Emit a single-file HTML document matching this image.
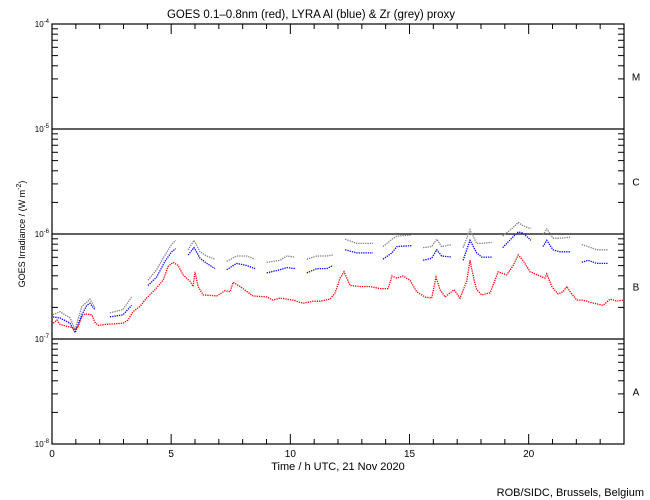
<!DOCTYPE html>
<html><head><meta charset="utf-8"><style>
body{margin:0;background:#fff}
svg{display:block;font-family:"Liberation Sans",sans-serif}
</style></head><body>
<svg id="chart" width="650" height="500" viewBox="0 0 650 500" xmlns="http://www.w3.org/2000/svg">
<rect width="650" height="500" fill="#fff"/>
<text x="311" y="18" font-size="11.5" text-anchor="middle">GOES 0.1–0.8nm (red), LYRA Al (blue) &amp; Zr (grey) proxy</text>
<g id="axes"></g>
<g id="series"></g>
<text x="338" y="470" font-size="11" text-anchor="middle">Time / h UTC, 21 Nov 2020</text>
<text transform="translate(25,234) rotate(-90)" font-size="9" text-anchor="middle">GOES Irradiance / (W m<tspan dy="-4" font-size="7">-2</tspan><tspan dy="4">)</tspan></text>
<text x="644" y="496" font-size="11" text-anchor="end">ROB/SIDC, Brussels, Belgium</text>
</svg>
<script>
const redTimes=[0.05,0.2,0.34,0.62,0.83,0.97,1.10,1.25,1.38,1.67,1.80,1.94,2.30,2.98,3.19,3.40,3.69,3.97,4.32,4.66,4.87,5.08,5.29,5.50,5.79,5.92,6.00,6.13,6.34,6.92,7.26,7.47,7.60,7.89,8.43,9.02,9.27,9.57,10.11,10.53,10.95,11.25,11.67,11.88,12.09,12.25,12.51,12.92,13.34,13.76,14.10,14.26,14.47,14.73,15.02,15.30,15.65,15.93,16.11,16.28,16.49,16.87,17.12,17.40,17.54,17.71,17.82,18.03,18.38,18.72,19.08,19.35,19.56,19.76,20.06,20.48,20.69,20.76,20.97,21.23,21.44,21.60,21.74,22.02,22.28,22.58,23.12,23.42,23.70,23.96];
const redLogFlux=[-6.85,-6.82,-6.86,-6.88,-6.89,-6.91,-6.88,-6.79,-6.76,-6.77,-6.84,-6.87,-6.86,-6.85,-6.82,-6.74,-6.69,-6.61,-6.53,-6.44,-6.31,-6.27,-6.30,-6.39,-6.45,-6.50,-6.36,-6.50,-6.58,-6.59,-6.54,-6.55,-6.46,-6.50,-6.59,-6.60,-6.63,-6.61,-6.63,-6.66,-6.64,-6.64,-6.62,-6.56,-6.42,-6.36,-6.49,-6.50,-6.50,-6.52,-6.52,-6.40,-6.42,-6.40,-6.44,-6.55,-6.60,-6.61,-6.41,-6.53,-6.60,-6.53,-6.61,-6.45,-6.25,-6.44,-6.53,-6.58,-6.56,-6.36,-6.39,-6.30,-6.20,-6.25,-6.36,-6.40,-6.42,-6.38,-6.50,-6.57,-6.55,-6.50,-6.55,-6.63,-6.63,-6.65,-6.68,-6.62,-6.64,-6.63];
const lyraTimes=[0.04,0.34,0.76,0.97,1.25,1.46,1.59,1.80,null,2.43,2.98,3.34,null,4.03,4.39,4.74,5.02,5.19,null,5.71,5.96,6.21,6.49,6.84,null,7.33,7.75,8.17,8.52,null,9.01,9.57,9.85,10.20,null,10.69,11.11,11.53,11.79,null,12.30,12.79,13.47,null,13.89,14.26,14.47,15.09,null,15.57,15.93,16.14,16.35,16.77,null,17.25,17.54,17.82,18.03,18.45,null,18.91,19.29,19.56,19.76,20.10,null,20.60,20.76,21.02,21.32,21.74,null,22.23,22.49,22.86,23.33,null,23.91];
const blueLogFlux=[-6.79,-6.80,-6.85,-6.94,-6.77,-6.68,-6.66,-6.72,null,-6.79,-6.77,-6.68,null,-6.49,-6.41,-6.26,-6.17,-6.14,null,-6.20,-6.13,-6.23,-6.28,-6.33,null,-6.34,-6.28,-6.30,-6.33,null,-6.37,-6.34,-6.32,-6.33,null,-6.37,-6.33,-6.33,-6.30,null,-6.15,-6.18,-6.18,null,-6.24,-6.18,-6.12,-6.11,null,-6.25,-6.23,-6.15,-6.21,-6.22,null,-6.25,-6.06,-6.18,-6.22,-6.22,null,-6.13,-6.04,-5.98,-5.99,-6.06,null,-6.12,-6.06,-6.15,-6.17,-6.17,null,-6.27,-6.25,-6.28,-6.28,null,-6.28];
const greyLogFlux=[-6.77,-6.74,-6.80,-6.91,-6.69,-6.65,-6.62,-6.70,null,-6.75,-6.72,-6.60,null,-6.44,-6.34,-6.20,-6.10,-6.06,null,-6.15,-6.06,-6.17,-6.21,-6.24,null,-6.26,-6.21,-6.21,-6.24,null,-6.27,-6.25,-6.21,-6.22,null,-6.24,-6.21,-6.21,-6.20,null,-6.05,-6.09,-6.09,null,-6.12,-6.05,-6.02,-6.01,null,-6.13,-6.12,-6.05,-6.12,-6.10,null,-6.13,-5.96,-6.09,-6.09,-6.08,null,-6.02,-5.95,-5.89,-5.92,-5.95,null,-6.01,-5.95,-6.04,-6.04,-6.03,null,-6.10,-6.12,-6.15,-6.15,null,-6.15];
const xTickLabels=["0","5","10","15","20"];
const xTickHours=[0,5,10,15,20];
const yDecades=[-4,-5,-6,-7,-8];
const classLabels=["M","C","B","A"];

const NS="http://www.w3.org/2000/svg";
const X0=52,X1=624,Y0=24,Y1=444;
const xs=h=>X0+h*(X1-X0)/24;
const ys=l=>Y0+(-4-l)*(Y1-Y0)/4;
function mk(tag,attrs,parent){const e=document.createElementNS(NS,tag);for(const k in attrs)e.setAttribute(k,attrs[k]);parent.appendChild(e);return e;}
const axes=document.getElementById('axes');
let e=mk('rect',{x:X0,y:Y0,width:X1-X0,height:Y1-Y0,fill:'none',stroke:'#000','stroke-width':1.2},axes);


yDecades.forEach(d=>{
  const y=ys(d);
  if(d!==-4&&d!==-8){const l=mk('line',{x1:X0,x2:X1,y1:y,y2:y,stroke:'#000','stroke-width':1.2},axes);
  
  }
  const t=mk('text',{x:X0-3,y:y+3,'font-size':8,'text-anchor':'end'},axes);
  
  
  t.innerHTML='10<tspan dy="-4" font-size="6">'+d+'</tspan>';
  if(d>-8){for(let m=2;m<=9;m++){const yy=ys(d-1+Math.log10(m));
    const a=mk('line',{x1:X0,x2:X0+6,y1:yy,y2:yy,stroke:'#000'},axes);
    
    
    const b=mk('line',{x1:X1,x2:X1-6,y1:yy,y2:yy,stroke:'#000'},axes);
    
    }}
});
classLabels.forEach((c,i)=>{
  const t=mk('text',{x:636,y:ys(-4.5-i)+4,'font-size':10,'text-anchor':'middle'},axes);
  
  
  t.textContent=c;
});
for(let h=1;h<24;h++){
  const len=(h%5===0)?10:5,x=xs(h);
  const a=mk('line',{x1:x,x2:x,y1:Y1,y2:Y1-len,stroke:'#000'},axes);
  
  
  const b=mk('line',{x1:x,x2:x,y1:Y0,y2:Y0+len,stroke:'#000'},axes);
  
  
}
xTickLabels.forEach((s,i)=>{
  const t=mk('text',{x:xs(xTickHours[i]),y:457,'font-size':10,'text-anchor':'middle'},axes);
  
  
  t.textContent=s;
});
const series=document.getElementById('series');
function draw(times,vals,color,name){
  let pts=[];
  const flush=()=>{if(pts.length){const p=mk('polyline',{points:pts.join(' '),fill:'none',stroke:color,'stroke-width':1.3,'stroke-dasharray':'1.3 1'},series);
    
    
    pts=[];}};
  for(let i=0;i<times.length;i++){
    if(times[i]===null||vals[i]===null){flush();continue;}
    pts.push(xs(times[i]).toFixed(1)+','+ys(vals[i]).toFixed(1));
  }
  flush();
}
draw(lyraTimes,greyLogFlux,'#808080','lyra-zr-grey-series');
draw(lyraTimes,blueLogFlux,'#0000ff','lyra-al-blue-series');
draw(redTimes,redLogFlux,'#ff0000','goes-red-series');
</script>
</body></html>
